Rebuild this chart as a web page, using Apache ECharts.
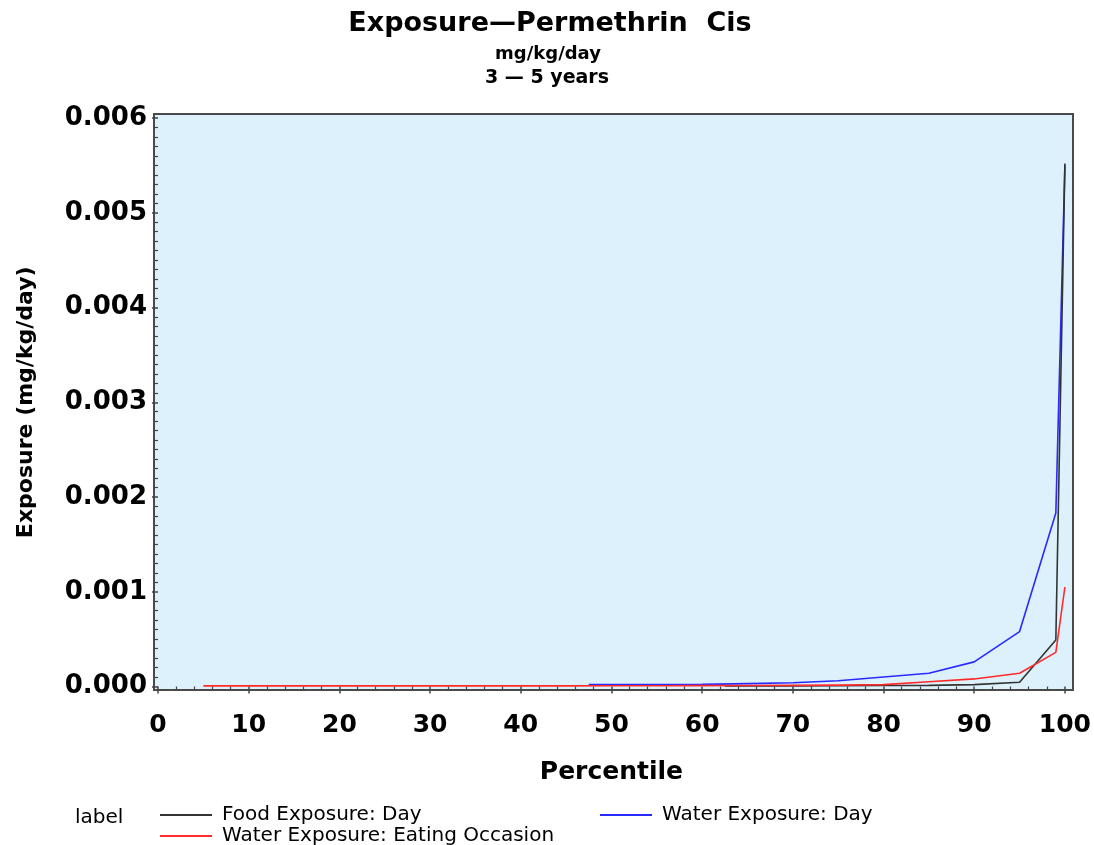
<!DOCTYPE html>
<html>
<head>
<meta charset="utf-8">
<script src="https://cdn.jsdelivr.net/npm/echarts@6/dist/echarts.min.js"></script>
<style>html,body{margin:0;padding:0;background:#fff}#c{width:1094px;height:845px}</style>
</head>
<body>
<div id="c"></div>
<script>
// Percentile positions and exposure values (mg/kg/day)
const foodPct  = [62.5, 65, 70, 75, 80, 85, 90, 95, 99, 100];
const foodVal  = [0.000005, 0.000006, 0.000007, 0.000008, 0.00001, 0.000012, 0.00002, 0.000045, 0.00049, 0.00552];
const waterOccPct = [5, 10, 15, 20, 25, 30, 35, 40, 45, 50, 55, 60, 65, 70, 75, 80, 85, 90, 95, 99, 100];
const waterOccVal = [0.000007, 0.000007, 0.000007, 0.000007, 0.000007, 0.000007, 0.000007, 0.000007, 0.000007, 0.000008, 0.000008, 0.000009, 0.00001, 0.000012, 0.000015, 0.00002, 0.00005, 0.00008, 0.00014, 0.00036, 0.00105];
const waterDayPct = [47.5, 50, 55, 60, 65, 70, 75, 80, 85, 90, 95, 99, 100];
const waterDayVal = [0.00002, 0.00002, 0.00002, 0.000022, 0.00003, 0.00004, 0.00006, 0.0001, 0.00014, 0.00026, 0.00058, 0.00183, 0.0055];
const seriesNames = ['Food Exposure: Day', 'Water Exposure: Eating Occasion', 'Water Exposure: Day'];
const yTicks = [0, 0.001, 0.002, 0.003, 0.004, 0.005, 0.006];
const xTicks = [0, 10, 20, 30, 40, 50, 60, 70, 80, 90, 100];

const zip = (a, b) => a.map((v, i) => [v, b[i]]);
const FONT = 'DejaVu Sans';
const chart = echarts.init(document.getElementById('c'));
const legendText = {fontFamily: FONT, fontSize: 20, color: '#000', padding: [0, 0, 0, 5]};
chart.setOption({
  animation: false,
  backgroundColor: '#ffffff',
  title: [
    {text: 'Exposure\u2014Permethrin  Cis', left: 545, top: 5, textAlign: 'center',
     textStyle: {fontFamily: FONT, fontSize: 27, fontWeight: 'bold', color: '#000'}},
    {text: 'mg/kg/day', left: 543, top: 40, textAlign: 'center',
     textStyle: {fontFamily: FONT, fontSize: 18, fontWeight: 'bold', color: '#000'}},
    {text: '3 \u2014 5 years', left: 542, top: 64, textAlign: 'center',
     textStyle: {fontFamily: FONT, fontSize: 19, fontWeight: 'bold', color: '#000'}},
    {text: 'label', left: 70, top: 803,
     textStyle: {fontFamily: FONT, fontSize: 20, fontWeight: 'normal', color: '#000'}}
  ],
  legend: [
    {data: [seriesNames[0]], left: 155, top: 800, icon: 'rect', itemWidth: 52, itemHeight: 2, textStyle: legendText},
    {data: [seriesNames[2]], left: 595, top: 800, icon: 'rect', itemWidth: 52, itemHeight: 2, textStyle: legendText},
    {data: [seriesNames[1]], left: 155, top: 821, icon: 'rect', itemWidth: 52, itemHeight: 2, textStyle: legendText}
  ],
  grid: [
    {left: 158, right: 27, top: 118, bottom: 158.5, show: false},
    {left: 154, right: 21, top: 114, bottom: 155, show: true, backgroundColor: '#dcf1fc',
     borderColor: '#4a4a4a', borderWidth: 2, z: 0}
  ],
  xAxis: [
    {type: 'value', gridIndex: 0, min: xTicks[0], max: xTicks[xTicks.length - 1], interval: 10, offset: 3.5,
     name: 'Percentile', nameLocation: 'middle', nameGap: 70,
     nameTextStyle: {fontFamily: FONT, fontSize: 25, fontWeight: 'bold', color: '#000'},
     axisLine: {show: false},
     axisTick: {show: true, length: 7, lineStyle: {color: '#444', width: 1.5}},
     minorTick: {show: true, splitNumber: 5, length: 4, lineStyle: {color: '#444', width: 1.2}},
     splitLine: {show: false},
     axisLabel: {margin: 23, fontFamily: FONT, fontSize: 25, fontWeight: 'bold', color: '#000'}},
    {type: 'value', gridIndex: 1, min: 0, max: 1, show: false}
  ],
  yAxis: [
    {type: 'value', gridIndex: 0, min: yTicks[0], max: yTicks[yTicks.length - 1], interval: 0.001, offset: 4,
     name: 'Exposure (mg/kg/day)', nameLocation: 'middle', nameGap: 117,
     nameTextStyle: {fontFamily: FONT, fontSize: 22, fontWeight: 'bold', color: '#000'},
     axisLine: {show: false},
     axisTick: {show: true, length: 6, lineStyle: {color: '#444', width: 1.5}},
     minorTick: {show: true, splitNumber: 10, length: 3, lineStyle: {color: '#444', width: 1.2}},
     splitLine: {show: false},
     axisLabel: {margin: 7, fontFamily: FONT, fontSize: 26, fontWeight: 'bold', color: '#000',
                 formatter: v => v.toFixed(3)}},
    {type: 'value', gridIndex: 1, min: 0, max: 1, show: false}
  ],
  series: [
    {name: seriesNames[2], type: 'line', xAxisIndex: 0, yAxisIndex: 0, data: zip(waterDayPct, waterDayVal),
     showSymbol: false, color: '#2a2aff', lineStyle: {color: '#2a2aff', width: 1.6}, z: 3},
    {name: seriesNames[0], type: 'line', xAxisIndex: 0, yAxisIndex: 0, data: zip(foodPct, foodVal),
     showSymbol: false, color: '#333333', lineStyle: {color: '#333333', width: 1.6}, z: 4},
    {name: seriesNames[1], type: 'line', xAxisIndex: 0, yAxisIndex: 0, data: zip(waterOccPct, waterOccVal),
     showSymbol: false, color: '#ff2a2a', lineStyle: {color: '#ff2a2a', width: 1.6}, z: 5}
  ]
});
</script>
</body>
</html>
